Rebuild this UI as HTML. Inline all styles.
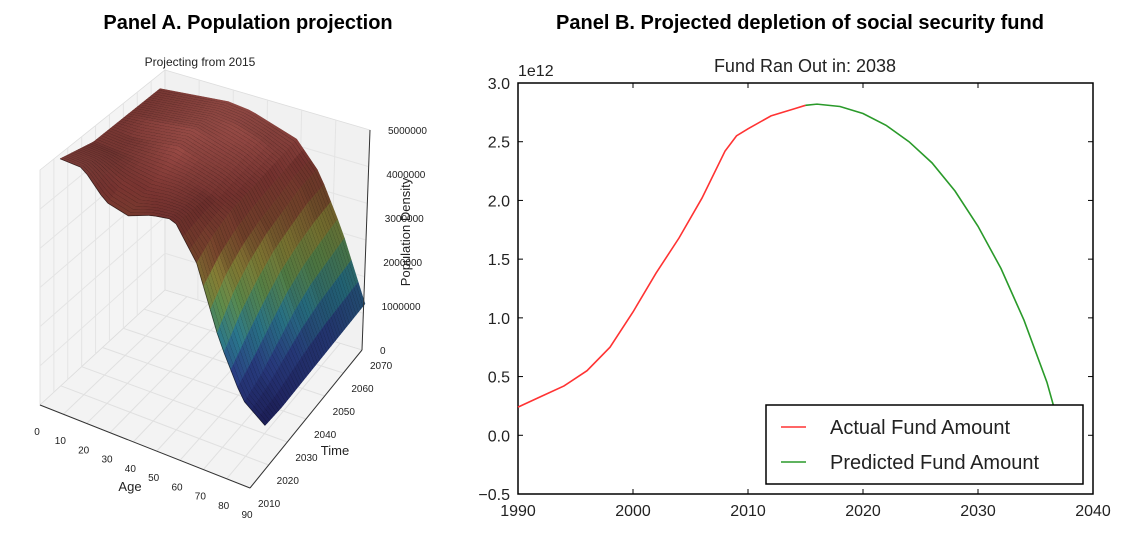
<!DOCTYPE html>
<html><head><meta charset="utf-8"><style>
body{margin:0;background:#fff;width:1136px;height:547px;overflow:hidden;font-family:"Liberation Sans",sans-serif}
svg text{font-family:"Liberation Sans",sans-serif}
</style></head><body>
<svg id="s" width="1136" height="547">
<text x="248" y="29" font-size="20" font-weight="bold" text-anchor="middle">Panel A. Population projection</text>
<text x="800" y="29" font-size="20" font-weight="bold" text-anchor="middle">Panel B. Projected depletion of social security fund</text>
<g id="pa"></g>
<g id="pb"></g>
</svg>
<script>
// ===== Panel B data =====
const actualYears=[1990,1992,1994,1996,1998,2000,2002,2004,2006,2008,2009,2010,2012,2014,2015];
const actualVals=[0.24,0.33,0.42,0.55,0.75,1.05,1.38,1.68,2.02,2.42,2.55,2.61,2.72,2.78,2.81];
const predYears=[2015,2016,2018,2020,2022,2024,2026,2028,2030,2032,2034,2036,2036.6];
const predVals=[2.81,2.82,2.80,2.74,2.64,2.50,2.32,2.08,1.78,1.42,0.98,0.45,0.24];
const xTicks=[1990,2000,2010,2020,2030,2040];
const yTicks=[-0.5,0.0,0.5,1.0,1.5,2.0,2.5,3.0];
// ===== Panel A data (population in millions) =====
const ages=[0,10,20,30,40,50,60,70,80,90];
const times=[2010,2020,2030,2040,2050,2060,2070];
const pop2010=[3.8,3.8,3.3,3.2,3.4,3.5,2.8,1.4,0.4,0.05];
const pop2020=[3.7,3.7,3.5,3.4,3.5,3.5,3.1,2.0,0.7,0.15];
const pop2030=[3.6,3.6,3.6,3.6,3.6,3.5,3.3,2.4,1.1,0.3];
const pop2040=[3.6,3.6,3.7,3.8,3.7,3.6,3.4,2.7,1.5,0.45];
const pop2050=[3.6,3.7,3.8,3.9,3.8,3.7,3.5,2.9,1.8,0.6];
const pop2060=[3.6,3.7,3.8,3.9,3.9,3.8,3.6,3.1,2.0,0.75];
const pop2070=[3.6,3.7,3.8,3.9,3.9,3.8,3.7,3.2,2.2,0.9];
const popRows=[pop2010,pop2020,pop2030,pop2040,pop2050,pop2060,pop2070];
const ageTicks=[0,10,20,30,40,50,60,70,80,90];
const timeTicks=[2010,2020,2030,2040,2050,2060,2070];
const zTicks=[0,1000000,2000000,3000000,4000000,5000000];

const NS='http://www.w3.org/2000/svg';
function mk(tag,attrs,parent,txt){const e=document.createElementNS(NS,tag);for(const k in attrs)e.setAttribute(k,attrs[k]);if(txt!==undefined)e.textContent=txt;parent.appendChild(e);return e;}

// ----- Panel B -----
const pb=document.getElementById('pb');
const L=518,R=1093,T=83,B=494;
const xs=v=>L+(v-1990)/50*(R-L);
const ys=v=>B-(v+0.5)/3.5*(B-T);
let fr=mk('rect',{x:L,y:T,width:R-L,height:B-T,fill:'none',stroke:'#000','stroke-width':1.5},pb);

xTicks.forEach(v=>{
 let t=mk('line',{x1:xs(v),x2:xs(v),y1:B,y2:B-5,stroke:'#000'},pb);
 let t2=mk('line',{x1:xs(v),x2:xs(v),y1:T,y2:T+5,stroke:'#000'},pb);
 let l=mk('text',{x:xs(v),y:B+22,'font-size':16,'text-anchor':'middle',fill:'#222'},pb,String(v));
});
yTicks.forEach(v=>{
 let t=mk('line',{x1:L,x2:L+5,y1:ys(v),y2:ys(v),stroke:'#000'},pb);
 let t2=mk('line',{x1:R,x2:R-5,y1:ys(v),y2:ys(v),stroke:'#000'},pb);
 let l=mk('text',{x:L-8,y:ys(v)+6,'font-size':16,'text-anchor':'end',fill:'#222'},pb,(v<0?'\u22120.5':v.toFixed(1)));
});
let ex=mk('text',{x:518,y:76,'font-size':16,fill:'#222'},pb,'1e12');
let tt=mk('text',{x:805,y:72,'font-size':18,'text-anchor':'middle',fill:'#222'},pb,'Fund Ran Out in: 2038');
let ra=mk('polyline',{points:actualYears.map((y,i)=>xs(y)+','+ys(actualVals[i])).join(' '),fill:'none',stroke:'#ff3333','stroke-width':1.6},pb);

let gp=mk('polyline',{points:predYears.map((y,i)=>xs(y)+','+ys(predVals[i])).join(' '),fill:'none',stroke:'#2a9a2a','stroke-width':1.6},pb);

let lg=mk('g',{},pb);
mk('rect',{x:766,y:405,width:317,height:79,fill:'#fff',stroke:'#000','stroke-width':1.5},lg);
mk('line',{x1:781,x2:806,y1:427,y2:427,stroke:'#ff3333','stroke-width':1.6},lg);
mk('line',{x1:781,x2:806,y1:462,y2:462,stroke:'#2a9a2a','stroke-width':1.6},lg);
let le1=mk('text',{x:830,y:434,'font-size':20,fill:'#222'},lg,'Actual Fund Amount');
let le2=mk('text',{x:830,y:469,'font-size':20,fill:'#222'},lg,'Predicted Fund Amount');

// ----- Panel A -----
const pa=document.getElementById('pa');
const Ap=[40,170],Bp=[165,70],Cp=[370,130],Dp=[40,405],Ep=[165,290],Fp=[362,350],Gp=[250,488];
function poly(pts,f,name){let p=mk('polygon',{points:pts.map(q=>q.join(',')).join(' '),fill:f,stroke:'#ddd','stroke-width':0.8},pa);}
poly([Ap,Bp,Ep,Dp],'#f4f4f4','left-pane');poly([Bp,Cp,Fp,Ep],'#f1f1f1','right-pane');poly([Dp,Ep,Fp,Gp],'#f3f3f3','floor-pane');
const lerp=(p,q,s)=>[p[0]+(q[0]-p[0])*s,p[1]+(q[1]-p[1])*s];
for(let i=1;i<9;i++){const s=i/9;let a=lerp(Dp,Gp,s),b=lerp(Ep,Fp,s),c=lerp(Ap,Bp,s);
 mk('line',{x1:a[0],y1:a[1],x2:b[0],y2:b[1],stroke:'#e0e0e0'},pa);mk('line',{x1:c[0],y1:c[1],x2:lerp(Dp,Ep,s)[0],y2:lerp(Dp,Ep,s)[1],stroke:'#e4e4e4'},pa);}
for(let i=1;i<6;i++){const s=i/6;let a=lerp(Gp,Fp,s),b=lerp(Dp,Ep,s),c=lerp(Bp,Cp,s);
 mk('line',{x1:a[0],y1:a[1],x2:b[0],y2:b[1],stroke:'#e0e0e0'},pa);mk('line',{x1:c[0],y1:c[1],x2:lerp(Ep,Fp,s)[0],y2:lerp(Ep,Fp,s)[1],stroke:'#e4e4e4'},pa);
 let u=lerp(Dp,Ap,s),v=lerp(Ep,Bp,s),w=lerp(Fp,Cp,s);mk('polyline',{points:u.join(',')+' '+v.join(',')+' '+w.join(','),fill:'none',stroke:'#e4e4e4'},pa);}
// surface
function S(a,t,z){const an=a/90,tn=(t-2010)/60;return [60+205*an+100*tn,345+83*an-80*tn-z/5*245];}
function zAt(a,t){const fi=(t-2010)/10,i0=Math.min(5,Math.floor(fi)),ft=fi-i0;const fa=a/10,j0=Math.min(8,Math.floor(fa)),fa2=fa-j0;
 const r0=popRows[i0],r1=popRows[i0+1];const v0=r0[j0]*(1-fa2)+r0[j0+1]*fa2,v1=r1[j0]*(1-fa2)+r1[j0+1]*fa2;return v0*(1-ft)+v1*ft;}
const stops=[[0,[25,25,75]],[0.2,[30,45,95]],[0.35,[30,85,100]],[0.5,[65,100,55]],[0.62,[100,95,40]],[0.74,[95,55,35]],[0.88,[105,45,42]],[1,[140,70,65]]];
function col(z,sh){const v=Math.max(0,Math.min(1,z/3.9));let c=stops[stops.length-1][1];for(let k=1;k<stops.length;k++){if(v<=stops[k][0]){const s=(v-stops[k-1][0])/(stops[k][0]-stops[k-1][0]);c=stops[k-1][1].map((x,i)=>x+(stops[k][1][i]-x)*s);break;}}
 return 'rgb('+c.map(x=>Math.round(Math.min(255,x*sh))).join(',')+')';}
const NA=30,NT=44,quads=[];
for(let i=0;i<NT;i++)for(let j=0;j<NA;j++){const a0=90*j/NA,a1=90*(j+1)/NA,t0=2010+60*i/NT,t1=2010+60*(i+1)/NT;quads.push({a0,a1,t0,t1,d:(a0/90)-((t0-2010)/60)});}
quads.sort((p,q)=>p.d-q.d);
const sg=mk('g',{},pa);
quads.forEach(q=>{const z00=zAt(q.a0,q.t0),z10=zAt(q.a1,q.t0),z11=zAt(q.a1,q.t1),z01=zAt(q.a0,q.t1);
 const pts=[S(q.a0,q.t0,z00),S(q.a1,q.t0,z10),S(q.a1,q.t1,z11),S(q.a0,q.t1,z01)];
 const slope=(z01-z00)*6; const sh=Math.max(0.8,Math.min(1.4,1.0+slope));
 const c=col((z00+z10+z11+z01)/4,sh);
 mk('polygon',{points:pts.map(x=>x.join(',')).join(' '),fill:c,stroke:c,'stroke-width':0.5},sg);
 mk('line',{x1:pts[0][0],y1:pts[0][1],x2:pts[1][0],y2:pts[1][1],stroke:'rgba(0,0,0,0.55)','stroke-width':0.8},sg);
});
// axes ticks & labels
const ax=mk('g',{'font-size':10,fill:'#222'},pa);
mk('line',{x1:Dp[0],y1:Dp[1],x2:Gp[0],y2:Gp[1],stroke:'#333'},ax);mk('line',{x1:Gp[0],y1:Gp[1],x2:Fp[0],y2:Fp[1],stroke:'#333'},ax);mk('line',{x1:Fp[0],y1:Fp[1],x2:Cp[0],y2:Cp[1],stroke:'#333'},ax);
ageTicks.forEach(v=>{const p=lerp(Dp,Gp,v/90);let t=mk('text',{x:p[0]-3,y:p[1]+30,'text-anchor':'middle'},ax,String(v));});
timeTicks.forEach(v=>{const p=lerp(Gp,Fp,(v-2010)/60);let t=mk('text',{x:p[0]+8,y:p[1]+19},ax,String(v));});
zTicks.forEach(v=>{const p=lerp(Fp,Cp,v/5000000);let t=mk('text',{x:p[0]+18,y:p[1]+4},ax,String(v));});
let al=mk('text',{x:130,y:491,'font-size':13,'text-anchor':'middle'},ax,'Age');
let tl=mk('text',{x:335,y:455,'font-size':13,'text-anchor':'middle'},ax,'Time');
let zl=mk('text',{x:0,y:0,'font-size':13,'text-anchor':'middle',transform:'translate(410,232) rotate(-90)'},ax,'Population Density');
let st=mk('text',{x:200,y:66,'font-size':12,'text-anchor':'middle',fill:'#222'},pa,'Projecting from 2015');
</script>
</body></html>
